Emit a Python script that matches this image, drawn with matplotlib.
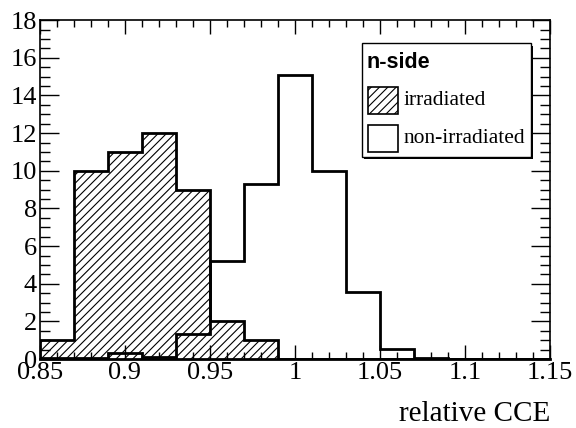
import matplotlib
matplotlib.use("Agg")
import matplotlib.pyplot as plt
from matplotlib.patches import Rectangle
from matplotlib.ticker import MultipleLocator

plt.rcParams["hatch.linewidth"] = 0.8

# Bin edges and contents
edges = [0.85, 0.87, 0.89, 0.91, 0.93, 0.95, 0.97, 0.99, 1.01, 1.03, 1.05,
         1.07, 1.09, 1.11, 1.13, 1.15]
irradiated = [1, 10, 11, 12, 9, 2, 1, 0, 0, 0, 0, 0, 0, 0, 0]
non_irradiated = [0.05, 0.05, 0.3, 0.1, 1.35, 5.2, 9.3, 15.1, 10, 3.55, 0.55,
                  0.05, 0, 0, 0]
xticks = [0.85, 0.9, 0.95, 1, 1.05, 1.1, 1.15]
xticklabels = ["0.85", "0.9", "0.95", "1", "1.05", "1.1", "1.15"]

serif = "Liberation Serif"
sans = "Liberation Sans"

fig = plt.figure(figsize=(5.76, 4.28), dpi=100)
ax = fig.add_axes([0.069, 0.161, 0.886, 0.792])

# Histograms
ax.stairs(irradiated, edges, fill=True, facecolor="white", edgecolor="black",
          hatch="////", linewidth=0)
ax.stairs(irradiated, edges, color="black", linewidth=2)
ax.stairs(non_irradiated, edges, color="black", linewidth=2)

ax.set_xlim(0.85, 1.15)
ax.set_ylim(0, 18)

# ROOT style ticks
ax.set_xticks(xticks)
ax.set_xticklabels(xticklabels)
ax.xaxis.set_minor_locator(MultipleLocator(0.01))
ax.yaxis.set_major_locator(MultipleLocator(2))
ax.yaxis.set_minor_locator(MultipleLocator(0.5))
ax.tick_params(which="both", direction="in", top=True, right=True,
               width=1, labelsize=19, pad=2)
ax.tick_params(axis="x", which="major", length=10)
ax.tick_params(axis="x", which="minor", length=5)
ax.tick_params(axis="y", which="major", length=14)
ax.tick_params(axis="y", which="minor", length=7)
for lab in ax.get_xticklabels() + ax.get_yticklabels():
    lab.set_fontfamily(serif)
for sp in ax.spines.values():
    sp.set_linewidth(1.2)
ax.spines["bottom"].set_linewidth(2)

ax.set_xlabel("relative CCE", fontsize=21, family=serif, loc="right",
              labelpad=12)

# Legend box with shadow
lx0, ly0, lw, lh = 0.631, 0.596, 0.331, 0.336
ax.add_patch(Rectangle((lx0 + 0.005, ly0 - 0.007), lw, lh, transform=ax.transAxes,
                       facecolor="black", edgecolor="none", zorder=5))
ax.add_patch(Rectangle((lx0, ly0), lw, lh, transform=ax.transAxes,
                       facecolor="white", edgecolor="black", lw=1, zorder=6))
ax.text(lx0 + 0.01, 0.876, "n-side", transform=ax.transAxes,
        family=sans, weight="bold", fontsize=15.5, va="center", zorder=7)
ax.add_patch(Rectangle((0.643, 0.723), 0.059, 0.08,
                       transform=ax.transAxes, facecolor="white",
                       edgecolor="black", hatch="////", lw=1.2, zorder=7))
ax.text(0.713, 0.764, "irradiated", transform=ax.transAxes,
        family=serif, fontsize=15.5, va="center", zorder=7)
ax.add_patch(Rectangle((0.643, 0.611), 0.059, 0.08,
                       transform=ax.transAxes, facecolor="white",
                       edgecolor="black", lw=1.2, zorder=7))
ax.text(0.713, 0.652, "non-irradiated", transform=ax.transAxes,
        family=serif, fontsize=15.5, va="center", zorder=7)

fig.savefig("out.png", dpi=100)
